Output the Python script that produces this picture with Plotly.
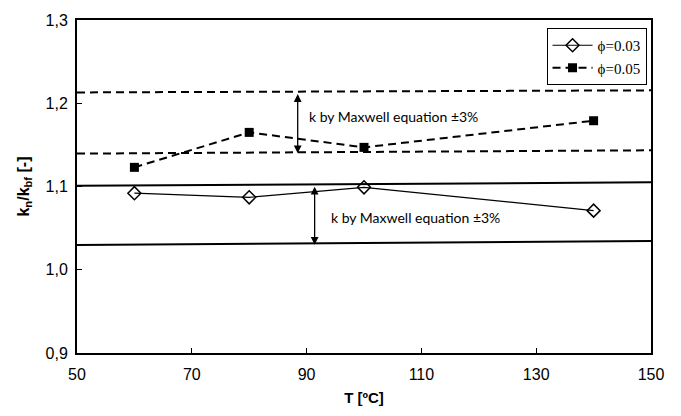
import plotly.graph_objects as go

# Data
T = [60, 80, 100, 140]
phi003 = [1.092, 1.087, 1.099, 1.071]
phi005 = [1.123, 1.165, 1.147, 1.179]

# Maxwell equation +/-3% bands (endpoints at T=50 and T=150)
T_band = [50, 150]
max005_upper = [1.213, 1.2155]
max005_lower = [1.1395, 1.1435]
max003_upper = [1.101, 1.105]
max003_lower = [1.0298, 1.0345]

series_names = ["\u03d5=0.03", "\u03d5=0.05"]
band_label = "k by Maxwell equation \u00b13%"

fig = go.Figure()

dash_pat = "8px,5px"

# Band lines
fig.add_trace(go.Scatter(x=T_band, y=max005_upper, mode="lines", showlegend=False,
                         line=dict(color="black", width=2, dash=dash_pat), hoverinfo="skip"))
fig.add_trace(go.Scatter(x=T_band, y=max005_lower, mode="lines", showlegend=False,
                         line=dict(color="black", width=2, dash=dash_pat), hoverinfo="skip"))
fig.add_trace(go.Scatter(x=T_band, y=max003_upper, mode="lines", showlegend=False,
                         line=dict(color="black", width=2), hoverinfo="skip"))
fig.add_trace(go.Scatter(x=T_band, y=max003_lower, mode="lines", showlegend=False,
                         line=dict(color="black", width=2), hoverinfo="skip"))

# Data series
fig.add_trace(go.Scatter(x=T, y=phi003, mode="lines+markers", name=series_names[0],
                         line=dict(color="black", width=1.2),
                         marker=dict(symbol="diamond-open", size=10, color="black",
                                     line=dict(width=1.5, color="black"))))
fig.add_trace(go.Scatter(x=T, y=phi005, mode="lines+markers", name=series_names[1],
                         line=dict(color="black", width=2, dash=dash_pat),
                         marker=dict(symbol="square", size=9, color="black")))

# Double-headed arrows
arrows = [
    (88.45, max005_lower[0] + 0.0005, 1.2128),
    (91.4, 1.0300, 1.1015),
]
for xa, y0, y1 in arrows:
    fig.add_annotation(x=xa, y=y0, ax=xa, ay=y1, xref="x", yref="y", axref="x", ayref="y",
                       showarrow=True, arrowhead=2, arrowside="end+start", arrowsize=1.2,
                       arrowwidth=1.3, arrowcolor="black", text="")

# Text labels
fig.add_annotation(x=90.0, y=1.1844, xref="x", yref="y", text=band_label, showarrow=False,
                   xanchor="left", yanchor="middle",
                   font=dict(family="Lato", size=14, color="black"))
fig.add_annotation(x=93.9, y=1.0628, xref="x", yref="y", text=band_label, showarrow=False,
                   xanchor="left", yanchor="middle",
                   font=dict(family="Lato", size=14, color="black"))

fig.update_layout(
    width=681, height=416,
    margin=dict(l=77, r=30, t=14, b=63),
    paper_bgcolor="white", plot_bgcolor="white",
    separators=", ",
    font=dict(family="Liberation Sans", color="black"),
    legend=dict(x=0.818, y=0.976, xanchor="left", yanchor="top",
                bgcolor="white", bordercolor="black", borderwidth=1,
                font=dict(family="Liberation Serif", size=15, color="black"),
                itemwidth=40, tracegroupgap=0),
    xaxis=dict(range=[50, 150], tickvals=[50, 70, 90, 110, 130, 150],
               showline=True, linecolor="black", linewidth=2, mirror=True,
               ticks="inside", ticklen=5, tickwidth=1, tickcolor="black",
               showgrid=False, zeroline=False, ticklabelstandoff=6,
               tickfont=dict(size=16, family="Liberation Sans"),
               title=dict(text="<b>T [\u00baC]</b>", font=dict(size=15), standoff=10)),
    yaxis=dict(range=[0.9, 1.3], tickvals=[0.9, 1.0, 1.1, 1.2, 1.3], tickformat=".1f",
               showline=True, linecolor="black", linewidth=2, mirror=True,
               ticks="inside", ticklen=5, tickwidth=1, tickcolor="black",
               showgrid=False, zeroline=False, ticklabelstandoff=4,
               tickfont=dict(size=16, family="Liberation Sans"),
               title=dict(text="<b>k<sub>n</sub>/k<sub>bf</sub> [-]</b>", font=dict(size=16), standoff=12)),
)

fig.write_html("out.html")
